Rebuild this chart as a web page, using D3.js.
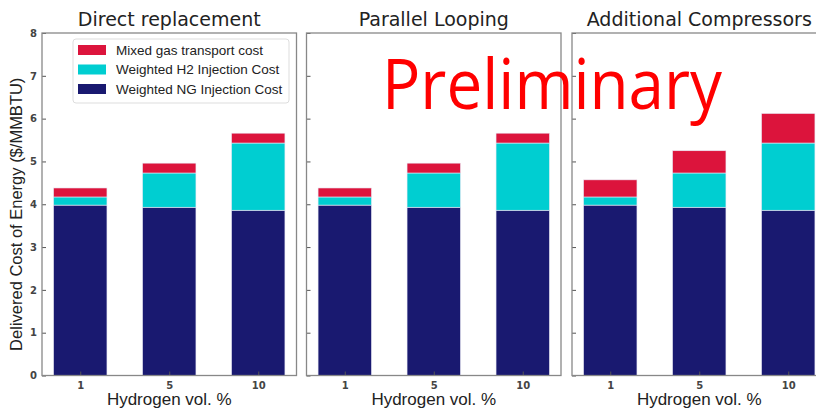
<!DOCTYPE html>
<html>
<head>
<meta charset="utf-8">
<script src="https://cdn.jsdelivr.net/npm/d3@7"></script>
<style>
  body { margin: 0; background: #fff; }
  svg { display: block; }
</style>
</head>
<body>
<div id="chart"></div>
<script>
// values
const categories = ['1', '5', '10'];
const panelTitles = ['Direct replacement', 'Parallel Looping', 'Additional Compressors'];
const ngCost = [3.98, 3.93, 3.86];
const h2Cost = [0.19, 0.80, 1.57];
const transportDirect = [0.21, 0.23, 0.23];
const transportLooping = [0.21, 0.23, 0.23];
const transportCompressors = [0.40, 0.52, 0.69];
const yTicks = [0, 1, 2, 3, 4, 5, 6, 7, 8];
const seriesNames = ['Mixed gas transport cost', 'Weighted H2 Injection Cost', 'Weighted NG Injection Cost'];
const seriesColors = ['#dc143c', '#00ced1', '#191970'];

const transports = [transportDirect, transportLooping, transportCompressors];

const W = 816, H = 410;
const svg = d3.select('#chart').append('svg')
  .attr('width', W)
  .attr('height', H);

const plotTop = 33, plotBottom = 375.5, pw = 254.5;
const lefts = [42, 306.5, 572];

const y = d3.scaleLinear().domain([0, 8]).range([plotBottom, plotTop]);

lefts.forEach((left, p) => {
  const x = d3.scaleLinear().domain([-0.43, 2.43]).range([left, left + pw]);
  const g = svg.append('g');

  // stacked values: NG, H2, transport
  const rows = categories.map((c, i) => ({ i: i, ng: ngCost[i], h2: h2Cost[i], tr: transports[p][i] }));
  const stack = d3.stack().keys(['ng', 'h2', 'tr'])(rows);
  const colors = { ng: seriesColors[2], h2: seriesColors[1], tr: seriesColors[0] };

  stack.forEach(layer => {
    g.selectAll(null).data(layer).enter().append('rect')
      .attr('x', d => x(d.data.i - 0.3))
      .attr('width', d => x(0.6) - x(0))
      .attr('y', d => y(d[1]))
      .attr('height', d => y(d[0]) - y(d[1]))
      .style('fill', colors[layer.key])
      .style('stroke', '#e8e8f4')
      .style('stroke-width', 0.6);
  });

  // inward ticks
  const yAxis = d3.axisLeft(y).tickValues(yTicks).tickSizeInner(-4).tickSizeOuter(0)
    .tickFormat(p === 0 ? d3.format('d') : '');
  const ya = g.append('g').attr('transform', `translate(${left},0)`).call(yAxis);
  ya.select('.domain').remove();
  ya.selectAll('.tick line').style('stroke', '#555');
  ya.selectAll('.tick text')
    .attr('x', -5)
    .style('font-family', 'DejaVu Sans')
    .style('font-size', '10px')
    .style('font-weight', 'bold')
    .style('fill', '#444');

  const xAxis = d3.axisBottom(x).tickValues([0, 1, 2]).tickSizeInner(-4).tickSizeOuter(0)
    .tickFormat(i => categories[i]);
  const xa = g.append('g').attr('transform', `translate(0,${plotBottom})`).call(xAxis);
  xa.select('.domain').remove();
  xa.selectAll('.tick line').style('stroke', '#555');
  xa.selectAll('.tick text')
    .attr('y', 6)
    .style('font-family', 'DejaVu Sans')
    .style('font-size', '10px')
    .style('font-weight', 'bold')
    .style('fill', '#444');

  // frame
  g.append('rect')
    .attr('x', left).attr('y', plotTop)
    .attr('width', pw).attr('height', plotBottom - plotTop)
    .style('fill', 'none')
    .style('stroke', '#888')
    .style('stroke-width', 1.3);

  g.append('text')
    .attr('x', left + pw / 2).attr('y', 26)
    .attr('text-anchor', 'middle')
    .style('font-family', 'DejaVu Sans')
    .style('font-size', '19px')
    .style('fill', '#222')
    .text(panelTitles[p]);

  g.append('text')
    .attr('x', left + pw / 2).attr('y', 405)
    .attr('text-anchor', 'middle')
    .style('font-family', 'Liberation Sans')
    .style('font-size', '17px')
    .style('fill', '#222')
    .text('Hydrogen vol. %');
});

// y label
svg.append('text')
  .attr('transform', `translate(22,${(plotTop + plotBottom) / 2 + 10}) rotate(-90)`)
  .attr('text-anchor', 'middle')
  .style('font-family', 'Liberation Sans')
  .style('font-size', '16.5px')
  .style('fill', '#222')
  .text('Delivered Cost of Energy ($/MMBTU)');

// legend
const lg = svg.append('g').attr('transform', 'translate(73,39)');
lg.append('rect')
  .attr('width', 216).attr('height', 64)
  .attr('rx', 3)
  .style('fill', '#fff')
  .style('stroke', '#ddd');
seriesNames.forEach((name, i) => {
  lg.append('rect')
    .attr('x', 5).attr('y', 6 + i * 19.5)
    .attr('width', 28).attr('height', 10)
    .style('fill', seriesColors[i]);
  lg.append('text')
    .attr('x', 43).attr('y', 15.5 + i * 19.5)
    .style('font-family', 'Liberation Sans')
    .style('font-size', '13.5px')
    .style('fill', '#222')
    .text(name);
});

// watermark
svg.append('text')
  .attr('x', 382).attr('y', 109)
  .attr('textLength', 340)
  .attr('lengthAdjust', 'spacingAndGlyphs')
  .style('font-family', 'Open Sans')
  .style('font-size', '70px')
  .style('fill', '#ff0000')
  .text('Preliminary');
</script>
</body>
</html>
